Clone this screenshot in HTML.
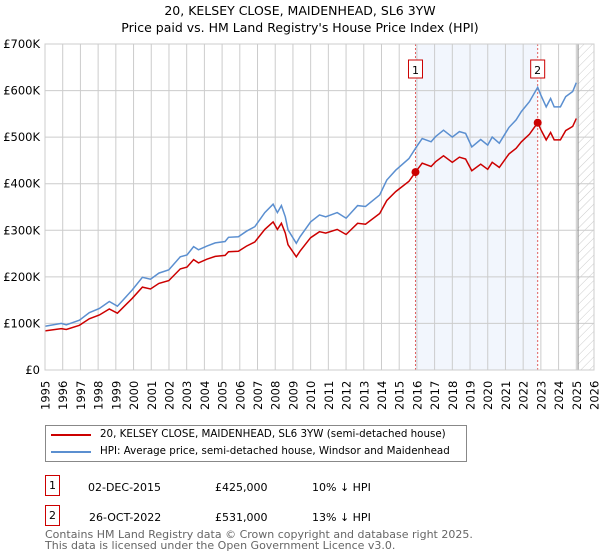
<!DOCTYPE html>
<html><head><meta charset="utf-8"><style>
body{margin:0;background:#fff;font-family:"DejaVu Sans","Liberation Sans",sans-serif;}
#wrap{position:relative;width:600px;height:560px;overflow:hidden;}
.t{position:absolute;white-space:nowrap;color:#000;}
</style></head><body>
<div id="wrap">
<div class="t" style="left:0;width:600px;text-align:center;top:3px;font-size:12.5px;">20, KELSEY CLOSE, MAIDENHEAD, SL6 3YW</div>
<div class="t" style="left:0;width:600px;text-align:center;top:20px;font-size:12.5px;">Price paid vs. HM Land Registry's House Price Index (HPI)</div>
<svg id="chart" width="600" height="420" style="position:absolute;left:0;top:0">
<defs><pattern id="hatch" width="6" height="6" patternUnits="userSpaceOnUse" patternTransform="rotate(45)"><line x1="0" y1="0" x2="0" y2="6" stroke="#ccc" stroke-width="1"/></pattern></defs>
</svg>
<div style="position:absolute;left:45px;top:425px;width:420px;height:35px;border:1px solid #888;">
<div style="position:absolute;left:5px;top:8px;width:40px;height:2px;background:#cc0000"></div>
<div class="t" style="left:54px;top:2px;font-size:10.3px;">20, KELSEY CLOSE, MAIDENHEAD, SL6 3YW (semi-detached house)</div>
<div style="position:absolute;left:5px;top:25px;width:40px;height:2px;background:#5b8fd0"></div>
<div class="t" style="left:54px;top:19px;font-size:10.3px;">HPI: Average price, semi-detached house, Windsor and Maidenhead</div>
</div>
<div class="t" style="left:45px;top:475px;width:13px;height:19px;border:1px solid #cc0000;font-size:11px;text-align:center;line-height:19px;">1</div>
<div class="t" style="left:88px;top:481px;font-size:11px;">02-DEC-2015</div>
<div class="t" style="left:215px;top:481px;font-size:11px;">£425,000</div>
<div class="t" style="left:312px;top:481px;font-size:11px;">10% ↓ HPI</div>
<div class="t" style="left:45px;top:505px;width:13px;height:19px;border:1px solid #cc0000;font-size:11px;text-align:center;line-height:19px;">2</div>
<div class="t" style="left:89px;top:511px;font-size:11px;">26-OCT-2022</div>
<div class="t" style="left:215px;top:511px;font-size:11px;">£531,000</div>
<div class="t" style="left:312px;top:511px;font-size:11px;">13% ↓ HPI</div>
<div class="t" style="left:45px;top:529px;font-size:11px;color:#666;line-height:11px;">Contains HM Land Registry data © Crown copyright and database right 2025.<br>This data is licensed under the Open Government Licence v3.0.</div>
</div>
<script>
const hpiYears=[1995,1995.92,1996.2,1996.94,1997.5,1998.07,1998.63,1999.09,1999.93,2000.5,2000.96,2001.43,2001.99,2002.64,2003.02,2003.39,2003.67,2004.14,2004.61,2005.17,2005.36,2005.92,2006.38,2006.85,2007.41,2007.88,2008.12,2008.35,2008.57,2008.72,2009.19,2009.4,2010,2010.5,2010.85,2011.5,2012,2012.65,2013.1,2013.9,2014.3,2014.8,2015.55,2015.92,2016.3,2016.8,2017.05,2017.5,2018,2018.4,2018.75,2019.1,2019.6,2020,2020.25,2020.65,2021.2,2021.6,2021.9,2022.35,2022.82,2023,2023.3,2023.55,2023.75,2024.1,2024.4,2024.8,2025];
const hpiValues=[94,100,97,107,123,132,147,137,172,199,195,208,215,243,247,265,258,266,273,276,285,286,298,308,338,356,338,353,329,301,272,286,318,333,329,338,326,353,351,376,408,429,454,476,497,490,501,515,500,512,508,479,495,483,500,487,521,537,555,576,607,590,565,583,565,565,587,598,617];
const propValues=[84,89,87,96,110,118,131,122,154,178,174,186,192,217,221,237,230,238,244,246,254,255,266,275,302,318,302,315,294,269,243,255,284,297,294,302,291,315,313,336,364,383,405,425,444,437,447,460,446,457,453,428,442,431,446,435,464,476,490,506,531,516,494,510,494,494,514,523,540];
const saleYears=[2015.92,2022.82];
const saleValues=[425,531];
const saleLabels=["1","2"];
const yTicks=[0,100,200,300,400,500,600,700];
const yTickLabels=["£0","£100K","£200K","£300K","£400K","£500K","£600K","£700K"];
const xStart=1995,xEnd=2026,dataEnd=2025.1;
const L=45,R=594,T=44,B=370;
const sx=y=>L+(y-xStart)/(xEnd-xStart)*(R-L);
const sy=v=>B-v/700*(B-T);
const svg=document.getElementById('chart');
const NS='http://www.w3.org/2000/svg';
function mk(tag,attrs){const e=document.createElementNS(NS,tag);for(const k in attrs)e.setAttribute(k,attrs[k]);svg.appendChild(e);return e;}
let e;
e=mk('rect',{x:sx(saleYears[0]),y:T,width:sx(saleYears[1])-sx(saleYears[0]),height:B-T,fill:'#f2f6fd'});


e=mk('rect',{x:sx(dataEnd),y:T,width:R-sx(dataEnd),height:B-T,fill:'url(#hatch)'});


for(let yr=xStart;yr<=xEnd;yr++){
 e=mk('line',{x1:sx(yr),x2:sx(yr),y1:T,y2:B,stroke:'#ccc','stroke-width':1});
 
 
 e=mk('text',{x:0,y:0,transform:`translate(${sx(yr)+4.5},${B+40}) rotate(-90)`,'font-size':11.5,'font-family':'DejaVu Sans, Liberation Sans, sans-serif',fill:'#000'});
 e.textContent=yr;
 
 
}
yTicks.forEach((v,i)=>{
 e=mk('line',{x1:L,x2:R,y1:sy(v),y2:sy(v),stroke:'#ccc','stroke-width':1});
 
 
 e=mk('text',{x:L-5,y:sy(v)+4,'text-anchor':'end','font-size':11.5,'font-family':'DejaVu Sans, Liberation Sans, sans-serif',fill:'#000'});
 e.textContent=yTickLabels[i];
 
 
});
e=mk('line',{x1:sx(dataEnd),x2:sx(dataEnd),y1:T,y2:B,stroke:'#888','stroke-width':1});


saleYears.forEach((yr,i)=>{
 e=mk('line',{x1:sx(yr),x2:sx(yr),y1:T,y2:B,stroke:'#e06060','stroke-width':1,'stroke-dasharray':'2,2'});
 
 
});
const pts=(vals)=>hpiYears.map((y,i)=>sx(y).toFixed(1)+','+sy(vals[i]).toFixed(1)).join(' ');
e=mk('polyline',{points:pts(hpiValues),fill:'none',stroke:'#5b8fd0','stroke-width':1.5});


e=mk('polyline',{points:pts(propValues),fill:'none',stroke:'#cc0000','stroke-width':1.5});


saleYears.forEach((yr,i)=>{
 e=mk('circle',{cx:sx(yr),cy:sy(saleValues[i]),r:4,fill:'#cc0000'});
 
 
 e=mk('rect',{x:sx(yr)-7,y:60,width:14,height:18,fill:'#fff',stroke:'#cc0000','stroke-width':1});
 
 
 e=mk('text',{x:sx(yr),y:74,'font-size':11,'font-family':'DejaVu Sans, sans-serif',fill:'#000','text-anchor':'middle'});
 e.textContent=saleLabels[i];
 
 
});
e=mk('rect',{x:L,y:T,width:R-L,height:B-T,fill:'none',stroke:'#ccc','stroke-width':1});


</script>
</body></html>
